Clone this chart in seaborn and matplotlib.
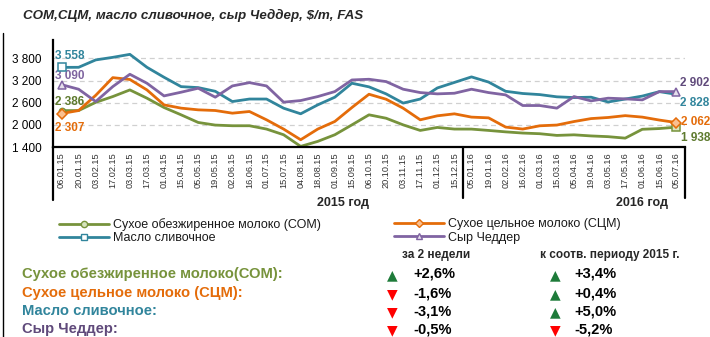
import numpy as np
import pandas as pd
import matplotlib
matplotlib.use("Agg")
import matplotlib.pyplot as plt
import seaborn as sns
from matplotlib.lines import Line2D
from matplotlib.transforms import blended_transform_factory

# --- data -------------------------------------------------------------
dates = ["06.01.15", "20.01.15", "03.02.15", "17.02.15", "03.03.15", "17.03.15",
         "01.04.15", "15.04.15", "05.05.15", "19.05.15", "02.06.15", "16.06.15",
         "01.07.15", "15.07.15", "04.08.15", "18.08.15", "01.09.15", "15.09.15",
         "06.10.15", "20.10.15", "03.11.15", "17.11.15", "01.12.15", "15.12.15",
         "05.01.16", "19.01.16", "02.02.16", "16.02.16", "01.03.16", "15.03.16",
         "05.04.16", "19.04.16", "03.05.16", "17.05.16", "01.06.16", "15.06.16",
         "05.07.16"]

som = [2386, 2388, 2610, 2767, 2947, 2723, 2470, 2272, 2065, 1994, 1976, 1976,
       1886, 1732, 1417, 1552, 1732, 2000, 2272, 2180, 2000, 1849, 1930, 1886,
       1885, 1849, 1810, 1778, 1760, 1714, 1730, 1700, 1680, 1640, 1880, 1900,
       1938]
scm = [2307, 2388, 2800, 3280, 3230, 2947, 2542, 2453, 2407, 2389, 2317, 2362,
       2137, 1886, 1597, 1886, 2092, 2470, 2830, 2695, 2452, 2137, 2245, 2299,
       2210, 2190, 1940, 1886, 1975, 1995, 2090, 2170, 2200, 2250, 2210, 2130,
       2062]
butter = [3558, 3560, 3760, 3830, 3911, 3560, 3290, 3036, 3010, 2910, 2632, 2700,
          2700, 2452, 2300, 2542, 2750, 3128, 3030, 2840, 2590, 2700, 3000, 3150,
          3300, 3160, 2910, 2850, 2820, 2760, 2740, 2750, 2620, 2700, 2780, 2900,
          2828]
cheddar = [3090, 2966, 2632, 3037, 3371, 3128, 2785, 2885, 2993, 2750, 3055, 3145,
           3055, 2615, 2659, 2767, 2902, 3217, 3236, 3173, 2966, 2875, 2840, 2857,
           2966, 2875, 2812, 2524, 2524, 2453, 2767, 2650, 2723, 2705, 2677, 2902,
           2902]

series_names = ["Сухое обезжиренное молоко (СОМ)", "Сухое цельное молоко (СЦМ)",
                "Масло сливочное", "Сыр Чеддер"]
yticks = [1400, 2000, 2600, 3200, 3800]

row_labels = ["Сухое обезжиренное молоко(СОМ):", "Сухое цельное молоко (СЦМ):",
              "Масло сливочное:", "Сыр Чеддер:"]
chg_2w = ["+2,6%", "-1,6%", "-3,1%", "-0,5%"]
chg_yoy = ["+3,4%", "+0,4%", "+5,0%", "-5,2%"]
col_headers = ["за 2 недели", "к соотв. периоду 2015 г."]

# --- styles -----------------------------------------------------------
line_colors = ["#77933C", "#E46C0A", "#31859C", "#8064A2"]
label_colors = ["#5E7A2E", "#E46C0A", "#31859C", "#604A7B"]
row_colors = ["#77933C", "#E46C0A", "#31859C", "#604A7B"]
marker_face = ["#D7E4BD", "#FAC090", "#FFFFFF", "#E6E0EC"]
start_markers = ["o", "D", "s", "^"]
end_markers = ["s", "D", None, "^"]

sns.set_theme(style="white")
plt.rcParams["font.family"] = ["Liberation Sans", "DejaVu Sans"]

W, H = 710, 337
fig = plt.figure(figsize=(W / 100, H / 100), dpi=100)
fig.patch.set_facecolor("white")


def fx(x):
    return x / W


def fy(y):
    return 1 - y / H


ax = fig.add_axes([fx(53), fy(147), fx(685) - fx(53), fy(40) - fy(147)])
ax.set_facecolor("white")

values = [som, scm, butter, cheddar]
df = pd.concat(
    [pd.DataFrame({"idx": np.arange(len(dates)), "price": v, "series": n})
     for v, n in zip(values, series_names)],
    ignore_index=True,
)

sns.lineplot(data=df, x="idx", y="price", hue="series", hue_order=series_names,
             palette=line_colors, linewidth=2.0, legend=False, ax=ax,
             sort=False)
for ln in ax.lines:
    ln.set_solid_joinstyle("round")
    ln.set_solid_capstyle("round")

# markers at first and last observations
last = len(dates) - 1
for v, c, fc, m0, m1 in zip(values, line_colors, marker_face, start_markers, end_markers):
    ax.plot([0], [v[0]], marker=m0, ms=5.5 if m0 != "o" else 4.5, mfc=fc, mec=c,
            mew=1.1, ls="none", zorder=5, clip_on=False)
    if m1:
        ax.plot([last], [v[last]], marker=m1, ms=5.5, mfc=fc, mec=c, mew=1.1,
                ls="none", zorder=5, clip_on=False)

# value labels
def fmt(v):
    return f"{v:,}".replace(",", " ")

lbl_kw = dict(fontsize=8.5, fontweight="bold", va="center", ha="left")
ax.annotate(fmt(som[0]), (0, som[0]), xytext=(-6.5, 9), textcoords="offset pixels",
            color=label_colors[0], **lbl_kw)
ax.annotate(fmt(scm[0]), (0, scm[0]), xytext=(-6.5, -14), textcoords="offset pixels",
            color=label_colors[1], **lbl_kw)
ax.annotate(fmt(butter[0]), (0, butter[0]), xytext=(-6.5, 11), textcoords="offset pixels",
            color=label_colors[2], **lbl_kw)
ax.annotate(fmt(cheddar[0]), (0, cheddar[0]), xytext=(-6.5, 9), textcoords="offset pixels",
            color="#7F64A0", **lbl_kw)
ax.annotate(fmt(cheddar[last]), (last, cheddar[last]), xytext=(4, 9), textcoords="offset pixels",
            color=label_colors[3], **lbl_kw)
ax.annotate(fmt(butter[last]), (last, butter[last]), xytext=(4, -9), textcoords="offset pixels",
            color=label_colors[2], **lbl_kw)
ax.annotate(fmt(scm[last]), (last, scm[last]), xytext=(5, 1), textcoords="offset pixels",
            color=label_colors[1], **lbl_kw)
ax.annotate(fmt(som[last]), (last, som[last]), xytext=(5, -11), textcoords="offset pixels",
            color=label_colors[0], **lbl_kw)

# axes
ax.set_xlim(-0.5, len(dates) - 0.5)
ax.set_ylim(1400, 4300)
ax.set_yticks(yticks)
ax.set_yticklabels([fmt(t) for t in yticks], fontsize=8.5, color="black")
ax.set_xticks(np.arange(len(dates)))
ax.set_xticklabels(dates, rotation=90, fontsize=6.6, color="#333333")
ax.set_xticks(np.arange(-0.5, len(dates), 1), minor=True)
ax.tick_params(axis="x", which="major", length=0, pad=4)
ax.tick_params(axis="x", which="minor", length=4, width=1, color="black", direction="out")
ax.tick_params(axis="y", which="major", length=5, width=1.2, color="black",
               direction="out", pad=3)
ax.set_xlabel("")
ax.set_ylabel("")

for s in ["top", "right"]:
    ax.spines[s].set_visible(False)
for s in ["left", "bottom"]:
    ax.spines[s].set_visible(True)
    ax.spines[s].set_color("black")
    ax.spines[s].set_linewidth(1.6)

for t in yticks[1:]:
    ax.axhline(t, color="#D0D0D0", lw=0.9, ls=(0, (4, 3)), zorder=0)

# year group separators below the axis
tr = blended_transform_factory(ax.transData, ax.transAxes)
depth = -(200 - 147) / (147 - 40)
depth2 = -(198 - 147) / (147 - 40)
for xpos, d in [(-0.5, depth), (23.5, depth2), (len(dates) - 0.5, depth2)]:
    ax.add_line(Line2D([xpos, xpos], [0, d], transform=tr, color="black",
                       lw=1.6, clip_on=False))

fig.text(fx(343), fy(203), "2015 год", fontsize=9, fontweight="bold",
         ha="center", va="center")
fig.text(fx(642), fy(203), "2016 год", fontsize=9, fontweight="bold",
         ha="center", va="center")

# title
fig.text(fx(23), fy(15), "СОМ,СЦМ, масло сливочное, сыр Чеддер, $/m, FAS",
         fontsize=9.6, fontweight="bold", fontstyle="italic", ha="left", va="center")

# left frame line
fig.add_artist(Line2D([fx(3), fx(3)], [fy(33), 0], color="black", lw=1.0))

# legend (two columns, drawn as two legends)
def handle(i):
    return Line2D([0], [0], color=line_colors[i], lw=2.0, marker=start_markers[i],
                  ms=4.5, mfc=marker_face[i], mec=line_colors[i], mew=1.0)

leg_kw = dict(frameon=False, fontsize=9, numpoints=1, handlelength=4.0,
              handletextpad=0.3, labelspacing=0.12, borderpad=0, borderaxespad=0,
              loc="upper left")
leg1 = fig.legend([handle(0), handle(2)], [series_names[0], series_names[2]],
                  bbox_to_anchor=(fx(59), fy(218)), **leg_kw)
leg2 = fig.legend([handle(1), handle(3)], [series_names[1], series_names[3]],
                  bbox_to_anchor=(fx(394), fy(218)), **leg_kw)
for lg in (leg1, leg2):
    for t in lg.get_texts():
        t.set_color("#1A1A1A")

# change table
fig.text(fx(436), fy(255), col_headers[0], fontsize=8.5, fontweight="bold",
         ha="center", va="center")
fig.text(fx(610), fy(255), col_headers[1], fontsize=8.5, fontweight="bold",
         ha="center", va="center")

row_y = [274, 293, 311, 329]
for y, lab, c, a, b in zip(row_y, row_labels, row_colors, chg_2w, chg_yoy):
    fig.text(fx(22), fy(y), lab, fontsize=10.6, fontweight="bold", color=c,
             ha="left", va="center")
    for val, xa, xv in [(a, 392, 413), (b, 555, 574)]:
        up = val.startswith("+")
        fig.text(fx(xa), fy(y + 1), "▲" if up else "▼",
                 color="#1E7B3A" if up else "#FF0000", fontsize=10,
                 ha="center", va="center", family=["DejaVu Sans"])
        fig.text(fx(xv), fy(y), val, fontsize=10.5, fontweight="bold",
                 color="black", ha="left", va="center")

fig.savefig("out.png", dpi=100, facecolor="white")
